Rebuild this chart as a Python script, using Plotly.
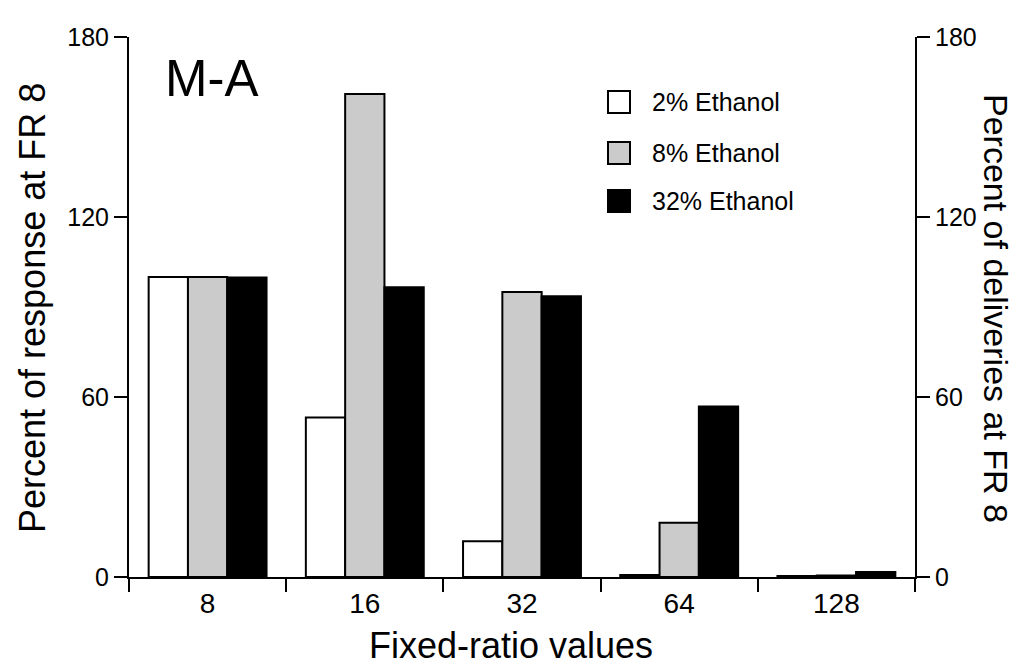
import plotly.graph_objects as go

# ---- data ----
categories = ["8", "16", "32", "64", "128"]
series_names = ["2% Ethanol", "8% Ethanol", "32% Ethanol"]
eth2 = [100, 53.2, 11.9, 0.7, 0.3]
eth8 = [100, 161, 95, 18.1, 0.5]
eth32 = [99.8, 96.6, 93.6, 56.8, 1.7]
series_values = [eth2, eth8, eth32]
yticks = [0, 60, 120, 180]

# ---- style ----
W, H = 1018, 666
L, R, T, B = 121, 111, 29, 97
fills = ["#ffffff", "#cbcbcb", "#000000"]
FONT = "Liberation Sans, Arial, Helvetica, sans-serif"


def px2x(px):
    return (px - L) / (W - L - R)


def px2y(py):
    return (H - B - py) / (H - T - B)


fig = go.Figure()
for name, vals, col in zip(series_names, series_values, fills):
    fig.add_trace(go.Bar(
        x=categories, y=vals, name=name,
        marker=dict(color=col, line=dict(color="black", width=2)),
        showlegend=False,
    ))

# invisible trace so the right-hand axis is drawn
fig.add_trace(go.Scatter(
    x=categories, y=eth32, yaxis="y2", mode="markers",
    marker=dict(opacity=0), hoverinfo="skip", showlegend=False,
))

axis_common = dict(
    range=[0, 180], tickvals=yticks, showline=True, linecolor="black",
    linewidth=2, ticks="outside", ticklen=13, tickwidth=2, tickcolor="black",
    showgrid=False, zeroline=False, tickfont=dict(size=25, color="black", family=FONT),
)

fig.update_layout(
    width=W, height=H,
    margin=dict(l=L, r=R, t=T, b=B),
    paper_bgcolor="white", plot_bgcolor="white",
    barmode="group", bargap=0.25, bargroupgap=0,
    font=dict(family=FONT, color="black"),
    xaxis=dict(
        type="category", range=[-0.5, 4.5], showline=True, linecolor="black",
        linewidth=2, ticks="outside", tickson="boundaries", ticklen=13,
        tickwidth=2, tickcolor="black", showgrid=False,
        tickfont=dict(size=28, color="black", family=FONT),
    ),
    yaxis=axis_common,
    yaxis2=dict(overlaying="y", side="right", **axis_common),
    showlegend=False,
)

annotations = [
    dict(text="M-A", x=px2x(155), y=px2y(71), xref="paper", yref="paper",
         xanchor="left", yanchor="middle", showarrow=False,
         font=dict(size=51, family=FONT, color="black")),
    dict(text="Percent of response at FR 8", x=px2x(25), y=px2y(300), xref="paper",
         yref="paper", textangle=-90, xanchor="center", yanchor="middle",
         showarrow=False, font=dict(size=36, family=FONT, color="black")),
    dict(text="Percent of deliveries at FR 8", x=px2x(988), y=px2y(300), xref="paper",
         yref="paper", textangle=90, xanchor="center", yanchor="middle",
         showarrow=False, font=dict(size=34, family=FONT, color="black")),
    dict(text="Fixed-ratio values", x=px2x(503), y=0, xref="paper",
         yref="paper", xanchor="center", yanchor="bottom", yshift=-(B - 6),
         showarrow=False, font=dict(size=36, family=FONT, color="black")),
]

shapes = []
row_centers = [94, 145, 193]
for name, col, cy in zip(series_names, fills, row_centers):
    shapes.append(dict(type="rect", xref="paper", yref="paper",
                       x0=px2x(600), x1=px2x(622), y0=px2y(cy + 11), y1=px2y(cy - 11),
                       fillcolor=col, line=dict(color="black", width=2)))
    annotations.append(dict(text=name, x=px2x(642), y=px2y(cy), xref="paper",
                            yref="paper", xanchor="left", yanchor="middle",
                            showarrow=False,
                            font=dict(size=25, family=FONT, color="black")))

fig.update_layout(annotations=annotations, shapes=shapes)

fig.write_html("out.html")
